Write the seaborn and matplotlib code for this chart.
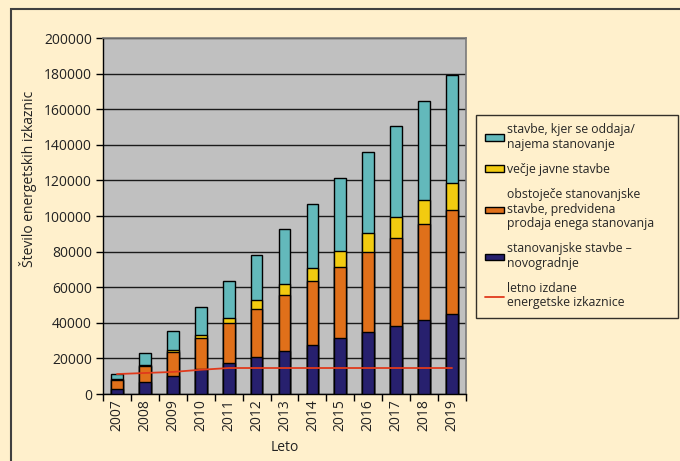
import numpy as np
import pandas as pd
import seaborn as sns
import matplotlib
matplotlib.use("Agg")
import matplotlib.pyplot as plt
from matplotlib.patches import Patch, Rectangle
from matplotlib.lines import Line2D
from matplotlib.ticker import MultipleLocator, FixedLocator

years = ["2007", "2008", "2009", "2010", "2011", "2012", "2013",
         "2014", "2015", "2016", "2017", "2018", "2019"]
novogradnje = [3000, 6700, 9900, 14000, 17400, 20800, 24300, 27700, 31500, 35000, 38400, 41700, 44900]
obstojece = [5000, 9300, 13900, 17200, 22500, 27000, 31300, 36000, 40000, 44900, 49400, 54000, 58600]
javne = [400, 500, 1100, 2100, 3000, 4800, 6200, 7200, 9000, 10300, 11800, 13500, 15000]
najem = [2800, 6500, 10500, 15600, 20400, 25300, 30700, 35800, 41000, 45900, 51100, 55600, 60700]
letno = [11200, 11800, 12400, 13600, 14600, 14600, 14600, 14600, 14600, 14600, 14600, 14600, 14600]

labels = ["stavbe, kjer se oddaja/\nnajema stanovanje",
          "večje javne stavbe",
          "obstoječe stanovanjske\nstavbe, predvidena\nprodaja enega stanovanja",
          "stanovanjske stavbe –\nnovogradnje",
          "letno izdane\nenergetske izkaznice"]

c_teal = "#63B9BB"
c_yel = "#F2CB10"
c_ora = "#E0701A"
c_navy = "#27206E"
c_red = "#E03A1C"
bg = "#FFF0CC"

sns.set_theme(style="white")
plt.rcParams["font.family"] = ["Open Sans", "DejaVu Sans"]

df = pd.DataFrame({"year": years, "n": novogradnje, "o": obstojece, "j": javne, "r": najem})
df["c1"] = df["n"]
df["c2"] = df["c1"] + df["o"]
df["c3"] = df["c2"] + df["j"]
df["c4"] = df["c3"] + df["r"]

fig = plt.figure(figsize=(6.8, 4.61), dpi=100, facecolor=bg)
ax = fig.add_axes([103/680, 1-394/461, (466-103)/680, (394-38)/461])
ax.set_facecolor("#C0C0C0")

for col, color in [("c4", c_teal), ("c3", c_yel), ("c2", c_ora), ("c1", c_navy)]:
    sns.barplot(data=df, x="year", y=col, color=color, width=0.42,
                edgecolor="black", linewidth=1.0, saturation=1, ax=ax, zorder=3)

sns.lineplot(x=np.arange(len(years)), y=letno, color=c_red, linewidth=1.3, ax=ax, zorder=4)

ax.set_ylim(0, 200000)
ax.set_xlim(-0.5, len(years)-0.5)
ax.yaxis.set_major_locator(MultipleLocator(20000))
ax.grid(axis="y", color="#1a1a1a", linewidth=1.0, zorder=0)
ax.set_axisbelow(True)
ax.set_xlabel("Leto", fontsize=10, color="#222222", labelpad=6)
ax.set_ylabel("Število energetskih izkaznic", fontsize=10, color="#222222")
ax.yaxis.set_label_coords(-0.183, 0.604)
ax.tick_params(axis="y", labelsize=10, length=5, width=1, direction="out", left=True, colors="black", labelcolor="#222222", pad=3)
ax.tick_params(axis="x", which="major", labelsize=10, length=0, rotation=90, labelcolor="#222222", pad=4)
ax.xaxis.set_minor_locator(FixedLocator(np.arange(-0.5, len(years), 1.0)))
ax.tick_params(axis="x", which="minor", length=5, width=1, direction="out", bottom=True, colors="black")

for s in ["left", "bottom"]:
    ax.spines[s].set_color("black")
    ax.spines[s].set_linewidth(1.0)
for s in ["top", "right"]:
    ax.spines[s].set_color("#7a7a7a")
    ax.spines[s].set_linewidth(1.2)

handles = [Patch(facecolor=c_teal, edgecolor="black", linewidth=1),
           Patch(facecolor=c_yel, edgecolor="black", linewidth=1),
           Patch(facecolor=c_ora, edgecolor="black", linewidth=1),
           Patch(facecolor=c_navy, edgecolor="black", linewidth=1),
           Line2D([0], [0], color=c_red, linewidth=1.3)]
x0, x1 = 476/680, 678/680
leg = fig.legend(handles, labels, loc="upper left",
                 bbox_to_anchor=(x0, 1-115/461, x1-x0, 0.001), mode="expand",
                 fontsize=8.8, frameon=True, fancybox=False, edgecolor="black",
                 facecolor=bg, handlelength=1.6, handleheight=0.4, handletextpad=0.2,
                 labelspacing=1.0, borderpad=0.7, borderaxespad=0)
for t in leg.get_texts():
    t.set_linespacing(1.15)
leg.get_frame().set_linewidth(1.0)

fig.patches.append(Rectangle((11/680, -0.1), 1.2, 1-9/461+0.1, transform=fig.transFigure,
                             fill=False, edgecolor="#404040", linewidth=1.5, zorder=0))

fig.savefig("out.png", dpi=100, facecolor=bg)
